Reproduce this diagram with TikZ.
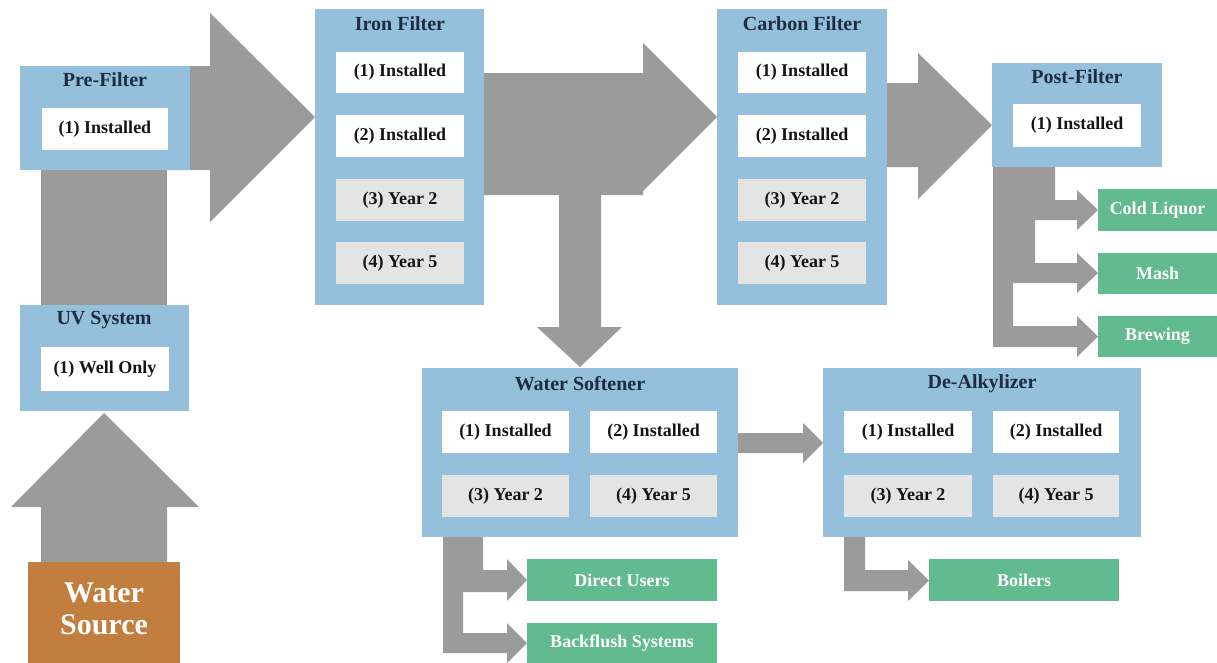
\documentclass[tikz,border=0pt]{standalone}
\usepackage{fontspec}
\setmainfont{Liberation Serif}
\usetikzlibrary{fit}
\definecolor{boxblue}{RGB}{148,192,220}
\definecolor{arrowgray}{RGB}{155,155,155}
\definecolor{cellgray}{RGB}{228,228,228}
\definecolor{sinkgreen}{RGB}{98,186,143}
\definecolor{srcbrown}{RGB}{194,126,62}
\definecolor{titlecol}{RGB}{30,45,62}
\definecolor{itemcol}{RGB}{20,20,20}
\tikzset{
  outbox/.style={fill=boxblue, draw=none, inner sep=0pt},
  cellw/.style={fill=white, draw=none, inner sep=0pt},
  cellg/.style={fill=cellgray, draw=none, inner sep=0pt},
  sinkbox/.style={fill=sinkgreen, draw=none, inner sep=0pt},
  srcbox/.style={fill=srcbrown, draw=none, inner sep=0pt},
  itemtxt/.style={inner sep=0pt, text=itemcol, font=\fontsize{18}{20}\selectfont\bfseries},
  sinktxt/.style={inner sep=0pt, text=white, font=\fontsize{18}{20}\selectfont\bfseries},
  ttl/.style={text=titlecol, inner sep=0pt, font=\fontsize{20}{22}\selectfont\bfseries},
  blk/.style={fill=arrowgray, draw=none},
}
% rectangle: box style, text style, name, x1, y1, x2, y2, text
\newcommand\rbox[8]{\node[#1, fit={(#4,#5) (#6,#7)}] (#3box) {};
  \node[#2] (#3) at (#3box.center) {#8};}
% L-shaped block arrow: x0,x1,y0,ys,yb,xh,headtop,headbot,xt
\newcommand\larrow[9]{\fill[blk] (#1,#3) -- (#2,#3) -- (#2,#4) -- (#6,#4) -- (#6,#7) -- (#9,{(#7+#8)/2}) -- (#6,#8) -- (#6,#5) -- (#1,#5) -- cycle;}
\begin{document}
\begin{tikzpicture}[x=1pt, y=-1pt]
\useasboundingbox (0,0) rectangle (1217,662);
\begin{scope}
\clip (0,0) rectangle (1217,662);
% ---------- block arrows (behind boxes) ----------
% UV -> Pre-Filter bar
\fill[blk] (41,165) rectangle (167,310);
% Water source up arrow
\fill[blk] (41,565) -- (41,507) -- (11,507) -- (104,413) -- (199,507) -- (167,507) -- (167,565) -- cycle;
% Pre-Filter -> Iron Filter
\fill[blk] (150,66) -- (210,66) -- (210,13) -- (315,117) -- (210,222) -- (210,170) -- (150,170) -- cycle;
% Iron Filter -> Carbon Filter, with branch down to Water Softener
\fill[blk] (470,73) -- (643,73) -- (643,43) -- (717,117) -- (643,191) -- (643,195)
  -- (601,195) -- (601,327) -- (622,327) -- (580,367) -- (537,327) -- (559,327) -- (559,195) -- (470,195) -- cycle;
% Carbon Filter -> Post-Filter
\fill[blk] (870,83) -- (918,83) -- (918,53) -- (992,125) -- (918,199) -- (918,167) -- (870,167) -- cycle;
% Water Softener -> De-Alkylizer
\fill[blk] (730,433) -- (803,433) -- (803,423) -- (823,443) -- (803,463) -- (803,453) -- (730,453) -- cycle;
% Post-Filter branches
\larrow{993}{1055}{160}{200}{220}{1077}{190}{230}{1098}
\larrow{993}{1035}{160}{263}{283}{1077}{253}{293}{1098}
\larrow{993}{1013}{160}{326}{347}{1077}{316}{357}{1098}
% Water Softener branches
\larrow{443}{483}{530}{570}{592}{507}{559}{601}{527}
\larrow{443}{463}{530}{633}{653}{507}{623}{663}{527}
% De-Alkylizer branch
\larrow{844}{865}{530}{570}{591}{908}{560}{601}{929}
% ---------- Pre-Filter ----------
\node[outbox, fit={(20,66) (190,170)}] (pre) {};
\node[ttl] (preT) at (105,80) {Pre-Filter};
\rbox{cellw}{itemtxt}{pre1}{42}{108}{168}{150}{(1) Installed}
% ---------- UV System ----------
\node[outbox, fit={(20,305) (189,411)}] (uv) {};
\node[ttl] (uvT) at (104,320) {UV System};
\rbox{cellw}{itemtxt}{uv1}{41}{347}{169}{391}{(1) Well Only}
% ---------- Water Source ----------
\node[srcbox, fit={(28,562) (180,670)}] (src) {};
\node[text=white, align=center, inner sep=0pt, font=\fontsize{30}{32}\selectfont\bfseries] (srcT) at (104,609) {Water\\Source};
% ---------- Iron Filter ----------
\node[outbox, fit={(315,9) (484,305)}] (iron) {};
\node[ttl] (ironT) at (400,24) {Iron Filter};
\rbox{cellw}{itemtxt}{iron1}{336}{52}{464}{93}{(1) Installed}
\rbox{cellw}{itemtxt}{iron2}{336}{115}{464}{157}{(2) Installed}
\rbox{cellg}{itemtxt}{iron3}{336}{179}{464}{221}{(3) Year 2}
\rbox{cellg}{itemtxt}{iron4}{336}{242}{464}{284}{(4) Year 5}
% ---------- Carbon Filter ----------
\node[outbox, fit={(717,9) (887,305)}] (carb) {};
\node[ttl] (carbT) at (802,24) {Carbon Filter};
\rbox{cellw}{itemtxt}{carb1}{738}{52}{866}{93}{(1) Installed}
\rbox{cellw}{itemtxt}{carb2}{738}{115}{866}{157}{(2) Installed}
\rbox{cellg}{itemtxt}{carb3}{738}{179}{866}{221}{(3) Year 2}
\rbox{cellg}{itemtxt}{carb4}{738}{242}{866}{284}{(4) Year 5}
% ---------- Post-Filter ----------
\node[outbox, fit={(992,63) (1162,167)}] (post) {};
\node[ttl] (postT) at (1077,77) {Post-Filter};
\rbox{cellw}{itemtxt}{post1}{1013}{104}{1141}{147}{(1) Installed}
% ---------- Water Softener ----------
\node[outbox, fit={(422,368) (738,537)}] (soft) {};
\node[ttl] (softT) at (580,384) {Water Softener};
\rbox{cellw}{itemtxt}{soft1}{442}{411}{569}{453}{(1) Installed}
\rbox{cellw}{itemtxt}{soft2}{590}{411}{717}{453}{(2) Installed}
\rbox{cellg}{itemtxt}{soft3}{442}{475}{569}{517}{(3) Year 2}
\rbox{cellg}{itemtxt}{soft4}{590}{475}{717}{517}{(4) Year 5}
% ---------- De-Alkylizer ----------
\node[outbox, fit={(823,368) (1141,537)}] (deal) {};
\node[ttl] (dealT) at (982,384) {De-Alkylizer};
\rbox{cellw}{itemtxt}{deal1}{844}{411}{972}{453}{(1) Installed}
\rbox{cellw}{itemtxt}{deal2}{993}{411}{1119}{453}{(2) Installed}
\rbox{cellg}{itemtxt}{deal3}{844}{475}{972}{517}{(3) Year 2}
\rbox{cellg}{itemtxt}{deal4}{993}{475}{1119}{517}{(4) Year 5}
% ---------- Sinks ----------
\rbox{sinkbox}{sinktxt}{cold}{1098}{189}{1217}{231}{Cold Liquor}
\rbox{sinkbox}{sinktxt}{mash}{1098}{253}{1217}{294}{Mash}
\rbox{sinkbox}{sinktxt}{brew}{1098}{316}{1217}{357}{Brewing}
\rbox{sinkbox}{sinktxt}{direct}{527}{559}{717}{601}{Direct Users}
\rbox{sinkbox}{sinktxt}{back}{527}{623}{717}{664}{Backflush Systems}
\rbox{sinkbox}{sinktxt}{boil}{929}{559}{1119}{601}{Boilers}
\end{scope}
\end{tikzpicture}
\end{document}
